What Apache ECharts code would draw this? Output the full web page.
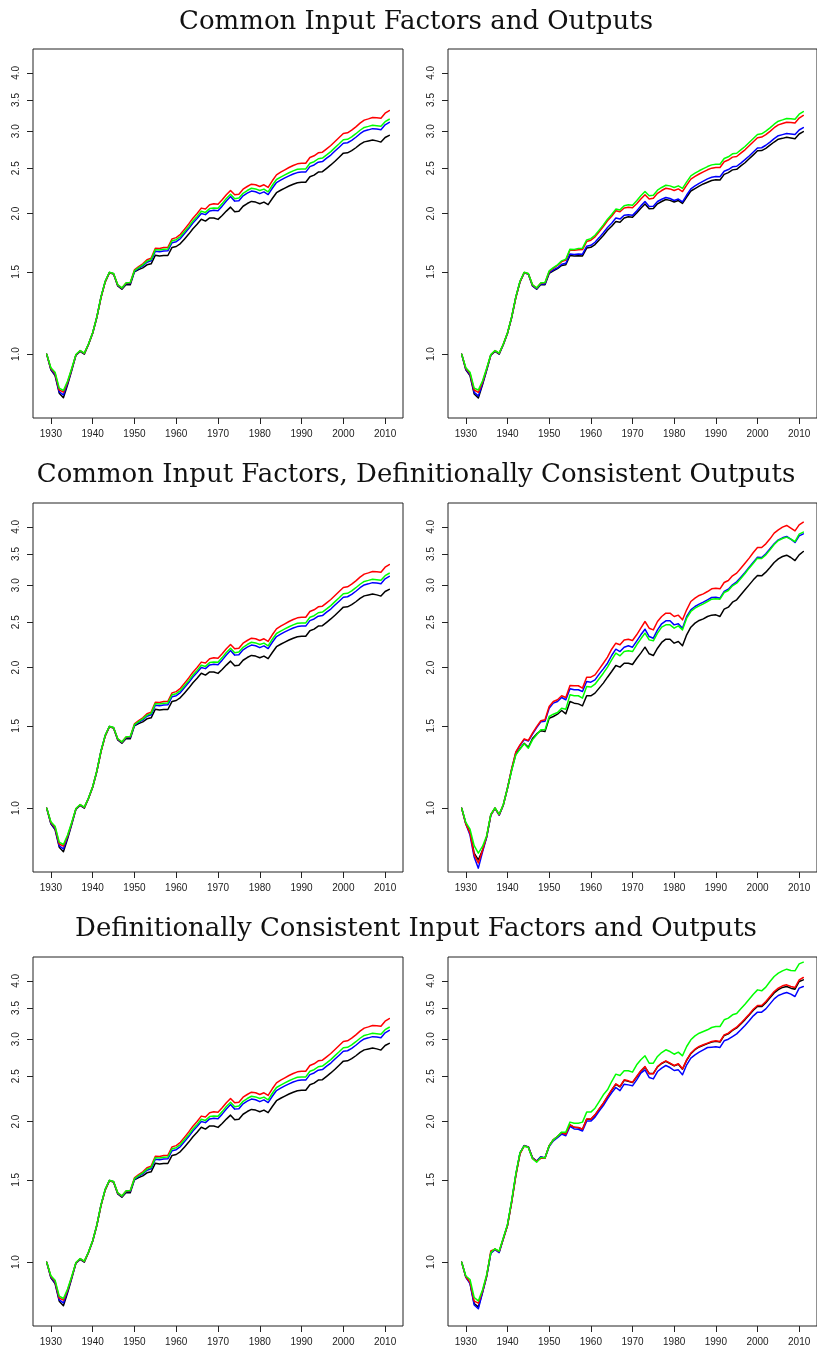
<!DOCTYPE html>
<html>
<head>
<meta charset="utf-8">
<script src="https://cdn.jsdelivr.net/npm/echarts@6/dist/echarts.min.js"></script>
<style>
  html, body { margin: 0; padding: 0; background: #ffffff; }
  #chart { width: 817px; height: 1353px; }
</style>
</head>
<body>
<div id="chart"></div>
<script>
// Index values (1929 = 1.0), plotted on a log scale.
const years = [
  1929,1930,1931,1932,1933,1934,1935,1936,1937,1938,1939,
  1940,1941,1942,1943,1944,1945,1946,1947,1948,1949,
  1950,1951,1952,1953,1954,1955,1956,1957,1958,1959,
  1960,1961,1962,1963,1964,1965,1966,1967,1968,1969,
  1970,1971,1972,1973,1974,1975,1976,1977,1978,1979,
  1980,1981,1982,1983,1984,1985,1986,1987,1988,1989,
  1990,1991,1992,1993,1994,1995,1996,1997,1998,1999,
  2000,2001,2002,2003,2004,2005,2006,2007,2008,2009,
  2010,2011
];

const rowTitles = [
  'Common Input Factors and Outputs',
  'Common Input Factors, Definitionally Consistent Outputs',
  'Definitionally Consistent Input Factors and Outputs'
];

const yTickValues = [1.0, 1.5, 2.0, 2.5, 3.0, 3.5, 4.0];
const xTickValues = [1930, 1940, 1950, 1960, 1970, 1980, 1990, 2000, 2010];

// Common inputs / common outputs (also left column of rows two and three)
const commonBlack = [
  1.000,0.926,0.900,0.825,0.807,0.860,0.924,0.995,1.014,1.000,1.049,1.108,1.198,1.324,1.428,1.493,1.484,1.400,1.377,1.410,1.408,
  1.500,1.517,1.530,1.553,1.561,1.628,1.623,1.626,1.626,1.692,
  1.700,1.725,1.765,1.807,1.856,1.897,1.944,1.927,1.957,1.956,
  1.943,1.980,2.024,2.064,2.018,2.023,2.073,2.101,2.123,2.116,
  2.099,2.116,2.089,2.154,2.216,2.243,2.267,2.291,2.311,2.328,
  2.333,2.333,2.397,2.417,2.453,2.458,2.499,2.541,2.588,2.640,
  2.693,2.697,2.726,2.766,2.811,2.847,2.860,2.874,2.861,2.844,
  2.909,2.941
];
const commonRed = [
  1.000,0.932,0.910,0.838,0.829,0.872,0.930,0.997,1.017,1.004,1.050,1.110,1.200,1.322,1.428,1.495,1.487,1.407,1.385,1.420,1.422,
  1.515,1.540,1.561,1.592,1.605,1.686,1.684,1.691,1.694,1.765,
  1.776,1.806,1.852,1.900,1.955,2.000,2.054,2.046,2.088,2.098,
  2.094,2.140,2.193,2.240,2.193,2.200,2.255,2.285,2.311,2.304,
  2.285,2.304,2.274,2.350,2.420,2.452,2.481,2.509,2.534,2.555,
  2.563,2.563,2.636,2.658,2.697,2.706,2.751,2.797,2.852,2.909,
  2.967,2.977,3.016,3.066,3.122,3.169,3.189,3.211,3.206,3.200,
  3.280,3.323
];
const commonGreen = [
  1.000,0.935,0.915,0.846,0.836,0.876,0.933,0.998,1.018,1.005,1.051,1.111,1.202,1.326,1.432,1.497,1.488,1.408,1.386,1.421,1.423,
  1.509,1.532,1.553,1.582,1.595,1.674,1.671,1.677,1.679,1.749,
  1.758,1.786,1.830,1.875,1.928,1.972,2.023,2.011,2.049,2.054,
  2.053,2.100,2.154,2.200,2.152,2.158,2.210,2.240,2.265,2.258,
  2.240,2.256,2.226,2.299,2.365,2.394,2.420,2.445,2.468,2.487,
  2.492,2.492,2.563,2.582,2.620,2.629,2.670,2.714,2.768,2.820,
  2.876,2.883,2.918,2.964,3.015,3.057,3.073,3.091,3.083,3.075,
  3.145,3.183
];
const commonBlue = [
  1.000,0.928,0.905,0.830,0.818,0.866,0.927,0.996,1.016,1.003,1.050,1.110,1.200,1.325,1.430,1.495,1.486,1.404,1.382,1.416,1.417,
  1.504,1.526,1.545,1.573,1.584,1.661,1.657,1.663,1.664,1.732,
  1.741,1.768,1.812,1.857,1.909,1.951,2.001,1.989,2.026,2.032,
  2.028,2.074,2.128,2.174,2.126,2.131,2.182,2.211,2.234,2.227,
  2.206,2.225,2.196,2.265,2.330,2.358,2.384,2.408,2.430,2.447,
  2.453,2.453,2.520,2.541,2.576,2.584,2.627,2.668,2.721,2.773,
  2.828,2.835,2.869,2.913,2.964,3.005,3.021,3.039,3.032,3.024,
  3.097,3.134
];

// Row one, right panel
const altBlack = [
  1.000,0.926,0.900,0.822,0.806,0.860,0.924,0.995,1.014,1.000,1.049,1.108,1.198,1.323,1.428,1.493,1.484,1.400,1.377,1.410,1.408,
  1.489,1.508,1.524,1.548,1.554,1.627,1.622,1.625,1.623,1.687,
  1.693,1.716,1.755,1.795,1.841,1.878,1.923,1.916,1.957,1.969,
  1.963,2.005,2.053,2.097,2.047,2.049,2.098,2.122,2.143,2.134,
  2.117,2.132,2.102,2.170,2.235,2.262,2.289,2.314,2.334,2.354,
  2.361,2.359,2.426,2.447,2.480,2.487,2.529,2.569,2.620,2.671,
  2.725,2.728,2.758,2.801,2.845,2.885,2.897,2.914,2.903,2.891,
  2.960,2.995
];
const altRed = [
  1.000,0.932,0.910,0.838,0.828,0.871,0.930,0.997,1.017,1.004,1.050,1.110,1.200,1.322,1.428,1.495,1.487,1.407,1.385,1.420,1.422,
  1.502,1.527,1.548,1.578,1.591,1.671,1.668,1.673,1.674,1.742,
  1.753,1.783,1.828,1.876,1.930,1.974,2.028,2.018,2.055,2.063,
  2.057,2.099,2.149,2.193,2.149,2.156,2.210,2.240,2.265,2.258,
  2.240,2.258,2.229,2.301,2.370,2.401,2.430,2.456,2.481,2.501,
  2.509,2.509,2.581,2.603,2.641,2.649,2.693,2.738,2.793,2.848,
  2.905,2.915,2.950,2.999,3.053,3.096,3.116,3.137,3.133,3.124,
  3.202,3.243
];
const altGreen = [
  1.000,0.935,0.915,0.846,0.838,0.876,0.933,0.998,1.018,1.005,1.051,1.111,1.202,1.326,1.432,1.497,1.488,1.408,1.386,1.421,1.423,
  1.507,1.532,1.553,1.584,1.597,1.678,1.676,1.683,1.686,1.756,
  1.767,1.797,1.843,1.891,1.945,1.990,2.044,2.036,2.078,2.088,
  2.084,2.129,2.182,2.229,2.182,2.189,2.244,2.274,2.299,2.292,
  2.274,2.292,2.263,2.338,2.408,2.440,2.469,2.496,2.521,2.542,
  2.550,2.550,2.623,2.645,2.684,2.692,2.737,2.783,2.838,2.894,
  2.952,2.962,3.001,3.051,3.106,3.153,3.173,3.195,3.190,3.184,
  3.264,3.306
];
const altBlue = [
  1.000,0.928,0.905,0.828,0.814,0.864,0.926,0.996,1.016,1.002,1.049,1.109,1.199,1.324,1.429,1.494,1.485,1.402,1.380,1.413,1.413,
  1.495,1.515,1.531,1.557,1.565,1.639,1.634,1.638,1.637,1.702,
  1.710,1.736,1.776,1.819,1.867,1.906,1.956,1.946,1.983,1.988,
  1.982,2.025,2.077,2.122,2.071,2.074,2.122,2.146,2.165,2.154,
  2.133,2.148,2.118,2.191,2.259,2.291,2.321,2.346,2.372,2.392,
  2.400,2.397,2.463,2.484,2.518,2.525,2.565,2.608,2.656,2.709,
  2.763,2.766,2.800,2.844,2.892,2.935,2.951,2.968,2.960,2.952,
  3.019,3.055
];

// Row two, right panel
const defOutBlack = [
  1.000,0.927,0.888,0.801,0.775,0.812,0.868,0.967,1.000,0.967,1.016,1.104,1.208,1.305,1.340,1.376,1.350,1.409,1.442,1.465,1.459,
  1.558,1.571,1.589,1.618,1.592,1.692,1.678,1.672,1.656,1.740,
  1.740,1.763,1.807,1.852,1.907,1.961,2.020,2.004,2.043,2.043,
  2.030,2.091,2.147,2.211,2.140,2.122,2.200,2.263,2.300,2.300,
  2.255,2.274,2.226,2.350,2.440,2.489,2.522,2.542,2.572,2.589,
  2.593,2.572,2.667,2.693,2.760,2.792,2.862,2.933,3.006,3.081,
  3.148,3.143,3.200,3.274,3.356,3.417,3.457,3.479,3.440,3.389,
  3.485,3.543
];
const defOutRed = [
  1.000,0.925,0.884,0.795,0.763,0.812,0.870,0.968,1.000,0.968,1.017,1.104,1.215,1.320,1.366,1.407,1.396,1.447,1.495,1.538,1.546,
  1.651,1.692,1.706,1.740,1.725,1.831,1.828,1.828,1.807,1.907,
  1.907,1.929,1.984,2.043,2.105,2.189,2.255,2.237,2.290,2.300,
  2.285,2.350,2.428,2.509,2.428,2.408,2.509,2.572,2.614,2.614,
  2.572,2.589,2.530,2.658,2.769,2.815,2.853,2.876,2.909,2.948,
  2.957,2.948,3.041,3.071,3.143,3.185,3.264,3.345,3.429,3.526,
  3.614,3.614,3.680,3.771,3.878,3.943,3.995,4.028,3.975,3.923,
  4.041,4.094
];
const defOutGreen = [
  1.000,0.932,0.902,0.831,0.801,0.828,0.873,0.970,1.001,0.970,1.018,1.104,1.205,1.300,1.338,1.373,1.344,1.400,1.436,1.471,1.471,
  1.571,1.589,1.602,1.637,1.629,1.748,1.740,1.740,1.720,1.822,
  1.816,1.842,1.892,1.945,2.004,2.077,2.147,2.119,2.164,2.172,
  2.164,2.237,2.304,2.369,2.292,2.281,2.369,2.440,2.468,2.468,
  2.428,2.456,2.408,2.551,2.636,2.680,2.711,2.738,2.769,2.801,
  2.806,2.801,2.895,2.924,2.992,3.031,3.102,3.179,3.264,3.345,
  3.429,3.423,3.485,3.572,3.668,3.741,3.777,3.803,3.765,3.722,
  3.859,3.898
];
const defOutBlue = [
  1.000,0.925,0.876,0.786,0.744,0.805,0.866,0.966,0.999,0.966,1.016,1.104,1.212,1.316,1.362,1.402,1.392,1.440,1.487,1.530,1.535,
  1.637,1.678,1.692,1.725,1.706,1.801,1.792,1.792,1.777,1.867,
  1.861,1.882,1.936,1.987,2.043,2.122,2.189,2.164,2.211,2.226,
  2.211,2.278,2.350,2.416,2.330,2.311,2.408,2.481,2.518,2.518,
  2.468,2.481,2.428,2.572,2.658,2.702,2.733,2.760,2.792,2.824,
  2.829,2.815,2.909,2.943,3.006,3.051,3.122,3.195,3.280,3.362,
  3.446,3.440,3.503,3.590,3.680,3.753,3.790,3.815,3.765,3.704,
  3.827,3.865
];

// Row three, right panel
const defAllBlack = [
  1.000,0.930,0.903,0.815,0.802,0.862,0.933,1.047,1.066,1.051,1.124,1.200,1.348,1.538,1.711,1.776,1.765,1.672,1.645,1.680,1.672,
  1.776,1.828,1.858,1.893,1.878,1.966,1.944,1.940,1.925,2.022,
  2.022,2.064,2.126,2.186,2.259,2.333,2.403,2.372,2.450,2.438,
  2.423,2.492,2.563,2.615,2.535,2.535,2.618,2.662,2.691,2.662,
  2.631,2.653,2.588,2.705,2.795,2.851,2.888,2.912,2.936,2.959,
  2.969,2.959,3.057,3.082,3.133,3.173,3.236,3.305,3.381,3.463,
  3.526,3.524,3.593,3.680,3.770,3.830,3.873,3.891,3.859,3.840,
  3.988,4.021
];
const defAllRed = [
  1.000,0.930,0.905,0.825,0.817,0.866,0.935,1.057,1.066,1.054,1.122,1.198,1.342,1.530,1.705,1.772,1.762,1.668,1.643,1.668,1.668,
  1.774,1.827,1.858,1.895,1.879,1.968,1.945,1.942,1.926,2.024,
  2.024,2.067,2.129,2.189,2.263,2.338,2.408,2.377,2.456,2.444,
  2.428,2.497,2.568,2.623,2.530,2.530,2.623,2.667,2.697,2.667,
  2.636,2.658,2.593,2.711,2.801,2.857,2.895,2.919,2.943,2.967,
  2.977,2.967,3.066,3.091,3.143,3.184,3.248,3.318,3.395,3.479,
  3.543,3.543,3.614,3.704,3.796,3.859,3.904,3.923,3.891,3.872,
  4.021,4.067
];
const defAllGreen = [
  1.000,0.934,0.918,0.840,0.826,0.872,0.940,1.048,1.068,1.056,1.128,1.204,1.355,1.545,1.715,1.772,1.760,1.665,1.636,1.676,1.670,
  1.774,1.827,1.858,1.898,1.898,1.994,1.984,1.984,1.994,2.095,
  2.095,2.136,2.207,2.281,2.338,2.436,2.526,2.509,2.568,2.568,
  2.551,2.645,2.711,2.765,2.667,2.667,2.756,2.810,2.848,2.824,
  2.787,2.815,2.765,2.895,2.992,3.051,3.091,3.117,3.143,3.179,
  3.195,3.195,3.302,3.329,3.384,3.406,3.485,3.566,3.655,3.747,
  3.827,3.809,3.878,3.988,4.087,4.155,4.203,4.238,4.210,4.203,
  4.351,4.387
];
const defAllBlue = [
  1.000,0.928,0.900,0.810,0.795,0.860,0.932,1.045,1.064,1.048,1.122,1.200,1.348,1.538,1.711,1.776,1.765,1.672,1.645,1.680,1.672,
  1.767,1.818,1.847,1.880,1.864,1.952,1.928,1.925,1.909,2.004,
  2.004,2.044,2.106,2.163,2.236,2.303,2.365,2.329,2.404,2.396,
  2.385,2.456,2.538,2.580,2.485,2.468,2.559,2.602,2.636,2.610,
  2.572,2.580,2.518,2.645,2.733,2.778,2.815,2.848,2.881,2.885,
  2.890,2.881,2.977,3.001,3.041,3.081,3.143,3.211,3.285,3.367,
  3.429,3.429,3.485,3.572,3.661,3.722,3.753,3.778,3.747,3.704,
  3.859,3.891
];

// Panels in reading order: [black, blue, red, green] (drawn in that order)
const panels = [
  [commonBlack, commonBlue, commonRed, commonGreen],
  [altBlack, altBlue, altRed, altGreen],
  [commonBlack, commonBlue, commonRed, commonGreen],
  [defOutBlack, defOutBlue, defOutRed, defOutGreen],
  [commonBlack, commonBlue, commonRed, commonGreen],
  [defAllBlack, defAllBlue, defAllRed, defAllGreen]
];
const lineColors = ['#000000', '#0000ff', '#ff0000', '#00ff00'];

// Plot-box geometry
const colLeft = [33, 448];
const rowTop = [49, 503, 957];
const boxW = 370;
const boxH = 369;
const titleY = [22, 475, 929];

const grids = [], xAxes = [], yAxes = [], series = [], graphics = [];
const axisColor = '#222222';
const tickFont = 'Liberation Sans, Arial, Helvetica, sans-serif';

panels.forEach((lines, p) => {
  const row = Math.floor(p / 2), col = p % 2;
  grids.push({
    left: colLeft[col], top: rowTop[row], width: boxW, height: boxH,
    show: true, borderColor: axisColor, borderWidth: 1, backgroundColor: 'transparent',
    containLabel: false
  });
  xAxes.push({
    gridIndex: p, type: 'value', min: 1925.72, max: 2014.28,
    axisLine: { show: false },
    splitLine: { show: false },
    axisTick: { show: true, length: 6, customValues: xTickValues, lineStyle: { color: axisColor, width: 1 } },
    axisLabel: { show: true, customValues: xTickValues, margin: 11, fontSize: 10, color: '#222', fontFamily: tickFont,
                 formatter: v => String(v) }
  });
  yAxes.push({
    gridIndex: p, type: 'log', logBase: 10, min: 0.73, max: 4.5,
    axisLine: { show: false },
    splitLine: { show: false },
    axisTick: { show: true, length: 6, customValues: yTickValues, lineStyle: { color: axisColor, width: 1 } },
    axisLabel: { show: true, customValues: yTickValues, rotate: 90, margin: 12, fontSize: 10, color: '#222',
                 fontFamily: tickFont, formatter: v => Number(v).toFixed(1) }
  });
  lines.forEach((arr, k) => {
    series.push({
      type: 'line', xAxisIndex: p, yAxisIndex: p,
      data: years.map((yr, i) => [yr, arr[i]]),
      showSymbol: false, symbol: 'none', silent: true,
      lineStyle: { color: lineColors[k], width: 1.5, join: 'round', cap: 'round' },
      z: 2 + k
    });
  });
});

rowTitles.forEach((t, r) => {
  graphics.push({
    type: 'text', x: 416, y: titleY[r],
    style: { text: t, font: '26px "DejaVu Serif", serif', fill: '#111', textAlign: 'center', textVerticalAlign: 'middle' }
  });
});

const chart = echarts.init(document.getElementById('chart'), null, { renderer: 'canvas' });
chart.setOption({
  animation: false,
  backgroundColor: '#ffffff',
  grid: grids, xAxis: xAxes, yAxis: yAxes, series: series,
  graphic: graphics
});
</script>
</body>
</html>
